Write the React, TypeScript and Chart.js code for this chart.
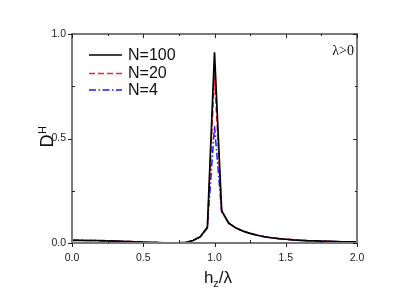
import React, { useEffect, useRef } from "react";
import { Chart, registerables } from "chart.js";

Chart.register(...registerables);

// ---- data ----
const hOverLambda = [
  0, 0.05, 0.1, 0.15, 0.2, 0.25, 0.3, 0.35, 0.4, 0.45, 0.5, 0.55, 0.6, 0.65, 0.7, 0.75, 0.8, 0.85, 0.9, 0.95,
  1.0, 1.05, 1.1, 1.15, 1.2, 1.25, 1.3, 1.35, 1.4, 1.45, 1.5, 1.55, 1.6, 1.65, 1.7, 1.75, 1.8, 1.85, 1.9, 1.95, 2.0,
];
const dN100 = [
  0.013, 0.013, 0.012, 0.012, 0.011, 0.01, 0.009, 0.008, 0.007, 0.006, 0.004, 0.003, 0.002, 0.001, 0.0005, 0.0003,
  0.003, 0.012, 0.03, 0.075, 0.913, 0.155, 0.095, 0.072, 0.057, 0.046, 0.037, 0.03, 0.025, 0.021, 0.018, 0.015,
  0.013, 0.011, 0.01, 0.009, 0.008, 0.007, 0.006, 0.006, 0.005,
];
const dN20 = [
  0.013, 0.013, 0.012, 0.012, 0.011, 0.01, 0.009, 0.008, 0.007, 0.006, 0.004, 0.003, 0.002, 0.001, 0.0005, 0.0003,
  0.003, 0.012, 0.03, 0.074, 0.8, 0.153, 0.095, 0.072, 0.057, 0.046, 0.037, 0.03, 0.025, 0.021, 0.018, 0.015,
  0.013, 0.011, 0.01, 0.009, 0.008, 0.007, 0.006, 0.006, 0.005,
];
const dN4 = [
  0.013, 0.013, 0.012, 0.012, 0.011, 0.01, 0.009, 0.008, 0.007, 0.006, 0.004, 0.003, 0.002, 0.001, 0.0005, 0.0003,
  0.003, 0.012, 0.03, 0.072, 0.56, 0.15, 0.094, 0.072, 0.057, 0.046, 0.037, 0.03, 0.025, 0.021, 0.018, 0.015,
  0.013, 0.011, 0.01, 0.009, 0.008, 0.007, 0.006, 0.006, 0.005,
];
const seriesLabels = ["N=100", "N=20", "N=4"];
const seriesColors = ["#000000", "#ff2020", "#1a1aff"];
const seriesDashes: number[][] = [[], [6, 3], [7, 2.5, 1.5, 2.5]];
const xMajorTicks = [0, 0.5, 1.0, 1.5, 2.0];
const xMinorTicks = [0.25, 0.75, 1.25, 1.75];
const yMajorTicks = [0, 0.5, 1.0];
const yMinorTicks = [0.25, 0.75];
const annotationText = "λ>0";

const SANS = "'Liberation Sans', Arial, sans-serif";
const SERIF = "'Liberation Serif', 'Times New Roman', serif";

const framePlugin = {
  id: "framePlugin",
  afterDraw(chart: any) {
    const { ctx, chartArea } = chart;
    const { left, right, top, bottom } = chartArea;
    const xs = chart.scales.x;
    const ys = chart.scales.y;
    ctx.save();
    // frame
    ctx.strokeStyle = "#7a7a7a";
    ctx.lineWidth = 2;
    ctx.strokeRect(left, top, right - left, bottom - top);
    // ticks
    ctx.strokeStyle = "#222";
    ctx.lineWidth = 1;
    const line = (x1: number, y1: number, x2: number, y2: number) => {
      ctx.beginPath();
      ctx.moveTo(x1, y1);
      ctx.lineTo(x2, y2);
      ctx.stroke();
    };
    xMajorTicks.forEach((v) => {
      const px = Math.round(xs.getPixelForValue(v)) + 0.5;
      line(px, bottom, px, bottom + 4);
      line(px, top, px, top + 4);
    });
    xMinorTicks.forEach((v) => {
      const px = Math.round(xs.getPixelForValue(v)) + 0.5;
      line(px, bottom, px, bottom - 3);
      line(px, top, px, top + 2);
    });
    yMajorTicks.forEach((v) => {
      const py = Math.round(ys.getPixelForValue(v)) + 0.5;
      line(left - 4, py, left, py);
      line(right, py, right - 4, py);
    });
    yMinorTicks.forEach((v) => {
      const py = Math.round(ys.getPixelForValue(v)) + 0.5;
      line(left, py, left + 3, py);
      line(right, py, right - 2, py);
    });

    // legend
    const legendY = [55, 73.5, 90];
    seriesLabels.forEach((lab, i) => {
      ctx.strokeStyle = seriesColors[i];
      ctx.lineWidth = 1.6;
      ctx.setLineDash(seriesDashes[i]);
      line(89, legendY[i], 122, legendY[i]);
      ctx.setLineDash([]);
      ctx.fillStyle = "#111";
      ctx.font = `16px ${SANS}`;
      ctx.textAlign = "left";
      ctx.textBaseline = "middle";
      ctx.fillText(lab, 128, legendY[i] + 0.5);
    });

    // annotation
    ctx.font = `14px ${SERIF}`;
    ctx.textAlign = "right";
    ctx.textBaseline = "alphabetic";
    ctx.fillStyle = "#111";
    ctx.fillText(annotationText, 354, 55);

    // x title: h_z/λ
    ctx.textAlign = "left";
    const big = 17;
    const small = 11;
    ctx.font = `${big}px ${SANS}`;
    const wH = ctx.measureText("h").width;
    const wRest = ctx.measureText("/λ").width;
    ctx.font = `${small}px ${SANS}`;
    const wZ = ctx.measureText("z").width;
    const total = wH + wZ + wRest;
    const x0 = 218 - total / 2;
    const base = 283;
    ctx.font = `${big}px ${SANS}`;
    ctx.fillText("h", x0, base);
    ctx.font = `${small}px ${SANS}`;
    ctx.fillText("z", x0 + wH, base + 4);
    ctx.font = `${big}px ${SANS}`;
    ctx.fillText("/λ", x0 + wH + wZ, base);

    // y title: D^H
    ctx.save();
    ctx.translate(53, 137);
    ctx.rotate(-Math.PI / 2);
    ctx.font = `18px ${SANS}`;
    const wD = ctx.measureText("D").width;
    ctx.font = `11px ${SANS}`;
    const wSup = ctx.measureText("H").width;
    const tot2 = wD + wSup;
    ctx.font = `18px ${SANS}`;
    ctx.fillText("D", -tot2 / 2, 0);
    ctx.font = `11px ${SANS}`;
    ctx.fillText("H", -tot2 / 2 + wD + 0.5, -7);
    ctx.restore();

    ctx.restore();
  },
};

export default function App() {
  const ref = useRef<HTMLCanvasElement | null>(null);
  useEffect(() => {
    if (!ref.current) return;
    const series = [dN100, dN20, dN4];
    const chart = new Chart(ref.current, {
      type: "line",
      data: {
        datasets: series.map((s, i) => ({
          label: seriesLabels[i],
          data: hOverLambda.map((x, j) => ({ x, y: s[j] })),
          borderColor: seriesColors[i],
          borderWidth: i === 0 ? 1.7 : 1.5,
          borderDash: seriesDashes[i],
          pointRadius: 0,
          fill: false,
          tension: 0,
        })),
      },
      options: {
        animation: false,
        responsive: true,
        maintainAspectRatio: false,
        layout: { padding: { top: 34, right: 58, left: 0, bottom: 0 } },
        plugins: { legend: { display: false }, tooltip: { enabled: false } },
        scales: {
          x: {
            type: "linear",
            min: 0,
            max: 2,
            grid: { display: false, drawTicks: false },
            border: { display: false },
            afterFit: (s: any) => {
              s.height = 49;
            },
            afterBuildTicks: (s: any) => {
              s.ticks = xMajorTicks.map((v) => ({ value: v }));
            },
            ticks: {
              padding: 9,
              color: "#222",
              font: { family: SANS, size: 10.5 },
              maxRotation: 0,
              callback: (v: any) => Number(v).toFixed(1),
            },
          },
          y: {
            type: "linear",
            min: 0,
            max: 1,
            grid: { display: false, drawTicks: false },
            border: { display: false },
            afterFit: (s: any) => {
              s.width = 72;
            },
            afterBuildTicks: (s: any) => {
              s.ticks = yMajorTicks.map((v) => ({ value: v }));
            },
            ticks: {
              padding: 6,
              color: "#222",
              font: { family: SANS, size: 10.5 },
              callback: (v: any) => Number(v).toFixed(1),
            },
          },
        },
      },
      plugins: [framePlugin],
    } as any);
    return () => chart.destroy();
  }, []);
  return (
    <div style={{ position: "absolute", left: 0, top: 0, width: 415, height: 292, background: "#fff" }}>
      <canvas ref={ref} />
    </div>
  );
}
